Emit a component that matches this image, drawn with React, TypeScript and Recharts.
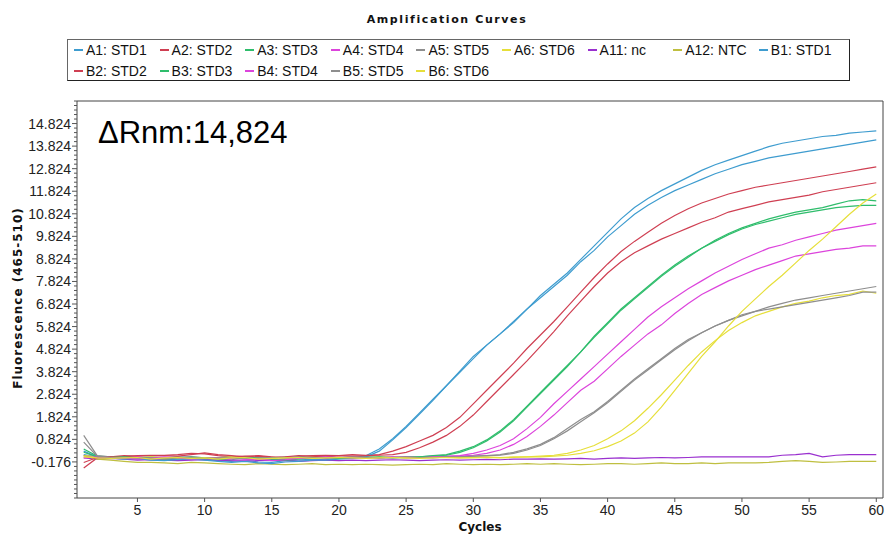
import React from "react";
import { LineChart, Line, XAxis, YAxis, ReferenceArea } from "recharts";

// cycle numbers (x categories)
const cycles = Array.from({ length: 60 }, (_, i) => i + 1);

// fluorescence per cycle (rows of 10 cycles)
const a1Std1 = [
  0.15, 0.05, 0.02, 0.0, -0.05, -0.08, -0.1, -0.05, 0.0, -0.08,
  -0.12, -0.15, -0.1, -0.18, -0.2, -0.12, -0.1, -0.05, -0.08, -0.02,
  0.0, 0.1, 0.4, 0.85, 1.4, 2.0, 2.6, 3.2, 3.85, 4.5,
  5.0, 5.5, 6.0, 6.6, 7.2, 7.7, 8.2, 8.8, 9.4, 10.0,
  10.6, 11.1, 11.5, 11.85, 12.15, 12.45, 12.75, 13.0, 13.2, 13.4,
  13.6, 13.8, 13.95, 14.05, 14.15, 14.25, 14.3, 14.4, 14.45, 14.5,
];
const b1Std1 = [
  0.3, 0.05, 0.0, -0.05, -0.02, -0.1, -0.12, -0.08, -0.05, -0.1,
  -0.15, -0.2, -0.15, -0.22, -0.25, -0.18, -0.15, -0.1, -0.1, -0.05,
  -0.02, 0.05, 0.3, 0.8, 1.35, 1.95, 2.55, 3.2, 3.8, 4.4,
  5.0, 5.5, 6.05, 6.6, 7.1, 7.6, 8.1, 8.7, 9.2, 9.8,
  10.3, 10.8, 11.2, 11.55, 11.85, 12.1, 12.35, 12.6, 12.8, 13.0,
  13.15, 13.3, 13.4, 13.5, 13.6, 13.7, 13.8, 13.9, 14.0, 14.1,
];
const a2Std2 = [
  -0.45, 0.0, 0.05, 0.1, 0.08, 0.1, 0.12, 0.15, 0.2, 0.18,
  0.1, 0.05, 0.08, 0.1, 0.05, 0.0, 0.05, 0.1, 0.12, 0.1,
  0.15, 0.12, 0.15, 0.3, 0.5, 0.75, 1.0, 1.35, 1.8, 2.4,
  3.0, 3.6, 4.2, 4.85, 5.45, 6.05, 6.7, 7.35, 8.0, 8.6,
  9.15, 9.6, 10.0, 10.4, 10.75, 11.05, 11.3, 11.5, 11.7, 11.85,
  12.0, 12.1, 12.2, 12.3, 12.4, 12.5, 12.6, 12.7, 12.8, 12.9,
];
const b2Std2 = [
  -0.2, 0.02, 0.05, 0.05, 0.1, 0.12, 0.1, 0.08, 0.15, 0.22,
  0.15, 0.1, 0.05, 0.08, 0.02, 0.05, 0.1, 0.08, 0.05, 0.1,
  0.08, 0.1, 0.12, 0.15, 0.25, 0.45, 0.7, 1.0, 1.4, 1.9,
  2.5, 3.1, 3.7, 4.3, 4.95, 5.6, 6.3, 6.95, 7.6, 8.2,
  8.7, 9.1, 9.4, 9.7, 9.95, 10.2, 10.45, 10.65, 10.9, 11.05,
  11.2, 11.35, 11.45, 11.55, 11.65, 11.8, 11.9, 12.0, 12.1, 12.2,
];
const a3Std3 = [
  0.4, 0.08, 0.05, 0.0, 0.02, -0.02, 0.0, 0.05, 0.02, -0.05,
  -0.02, 0.0, 0.05, -0.05, -0.1, -0.05, 0.0, 0.02, 0.05, 0.0,
  0.02, 0.05, 0.0, 0.02, 0.05, 0.05, 0.1, 0.15, 0.3, 0.5,
  0.8, 1.2, 1.7, 2.3, 2.9, 3.5, 4.1, 4.7, 5.4, 6.0,
  6.6, 7.1, 7.6, 8.1, 8.55, 8.95, 9.3, 9.65, 9.95, 10.2,
  10.4, 10.6, 10.75, 10.9, 11.0, 11.1, 11.25, 11.4, 11.45, 11.4,
];
const b3Std3 = [
  0.25, 0.05, 0.02, 0.05, 0.0, 0.02, -0.05, 0.0, 0.05, 0.0,
  -0.05, -0.08, 0.0, 0.02, -0.05, -0.1, -0.05, 0.0, 0.02, -0.02,
  0.0, 0.02, 0.05, 0.0, 0.02, 0.05, 0.08, 0.12, 0.25, 0.45,
  0.75, 1.15, 1.65, 2.25, 2.85, 3.45, 4.05, 4.7, 5.35, 5.95,
  6.55, 7.05, 7.55, 8.05, 8.5, 8.9, 9.3, 9.6, 9.9, 10.15,
  10.35, 10.5, 10.65, 10.8, 10.9, 11.0, 11.1, 11.15, 11.2, 11.2,
];
const a4Std4 = [
  0.1, 0.05, 0.0, -0.02, 0.05, 0.0, -0.05, 0.02, 0.05, 0.0,
  -0.05, 0.0, -0.05, -0.1, -0.08, -0.05, 0.0, 0.05, -0.02, 0.0,
  0.05, 0.0, 0.02, 0.0, 0.05, 0.02, 0.05, 0.08, 0.1, 0.2,
  0.35, 0.55, 0.85, 1.3, 1.8, 2.4, 2.95, 3.5, 4.05, 4.6,
  5.15, 5.7, 6.25, 6.7, 7.1, 7.5, 7.85, 8.2, 8.5, 8.8,
  9.05, 9.3, 9.45, 9.65, 9.8, 9.95, 10.1, 10.2, 10.3, 10.4,
];
const b4Std4 = [
  0.0, 0.05, 0.02, 0.0, -0.05, 0.0, 0.05, 0.0, -0.05, -0.02,
  0.0, -0.08, -0.1, -0.05, -0.12, -0.08, -0.02, 0.0, 0.05, 0.02,
  0.0, 0.02, 0.0, 0.05, 0.02, 0.0, 0.05, 0.05, 0.08, 0.12,
  0.2, 0.35, 0.6, 0.95, 1.4, 1.9, 2.45, 3.0, 3.4, 3.95,
  4.5, 5.0, 5.5, 5.9, 6.4, 6.85, 7.25, 7.55, 7.85, 8.1,
  8.35, 8.55, 8.75, 8.95, 9.05, 9.15, 9.25, 9.3, 9.4, 9.4,
];
const a5Std5 = [
  1.0, 0.1, 0.05, 0.02, 0.0, 0.05, 0.02, 0.0, -0.05, 0.0,
  0.02, 0.05, 0.0, -0.02, 0.0, 0.05, 0.02, 0.0, 0.05, 0.02,
  0.0, 0.05, 0.02, 0.05, 0.0, 0.02, 0.05, 0.02, 0.05, 0.08,
  0.1, 0.15, 0.25, 0.4, 0.6, 0.9, 1.3, 1.7, 2.05, 2.5,
  3.0, 3.5, 3.95, 4.4, 4.85, 5.25, 5.55, 5.85, 6.1, 6.3,
  6.5, 6.7, 6.85, 7.0, 7.1, 7.2, 7.3, 7.4, 7.5, 7.6,
];
const b5Std5 = [
  0.7, 0.08, 0.02, 0.0, 0.02, 0.0, -0.05, 0.02, 0.0, -0.02,
  0.0, 0.02, -0.02, 0.0, 0.02, 0.0, 0.05, 0.02, 0.0, 0.02,
  0.05, 0.02, 0.0, 0.02, 0.05, 0.02, 0.0, 0.05, 0.05, 0.08,
  0.1, 0.12, 0.2, 0.35, 0.55, 0.85, 1.2, 1.6, 2.0, 2.45,
  2.95, 3.45, 3.9, 4.35, 4.8, 5.2, 5.55, 5.85, 6.1, 6.35,
  6.5, 6.6, 6.7, 6.8, 6.9, 7.0, 7.1, 7.2, 7.35, 7.35,
];
const a6Std6 = [
  0.1, 0.05, 0.0, 0.02, 0.0, 0.05, 0.02, -0.02, 0.0, 0.02,
  0.0, 0.05, 0.0, -0.02, 0.0, 0.02, 0.0, 0.05, 0.02, 0.0,
  0.02, 0.0, 0.05, 0.02, 0.0, 0.02, 0.05, 0.02, 0.0, 0.02,
  0.05, 0.02, 0.05, 0.05, 0.08, 0.12, 0.2, 0.35, 0.55, 0.85,
  1.2, 1.65, 2.2, 2.8, 3.45, 4.1, 4.7, 5.2, 5.65, 6.0,
  6.3, 6.5, 6.7, 6.85, 6.95, 7.1, 7.2, 7.25, 7.4, 7.3,
];
const b6Std6 = [
  0.05, 0.0, -0.02, 0.0, 0.02, -0.05, 0.0, 0.02, -0.02, 0.0,
  -0.05, 0.0, 0.02, -0.05, -0.02, 0.0, 0.02, -0.02, 0.0, 0.02,
  0.0, -0.02, 0.0, 0.02, 0.0, -0.02, 0.0, 0.02, 0.0, 0.0,
  0.02, 0.0, 0.02, 0.05, 0.05, 0.08, 0.12, 0.2, 0.32, 0.5,
  0.75, 1.1, 1.6, 2.25, 3.0, 3.75, 4.5, 5.15, 5.85, 6.5,
  7.05, 7.6, 8.1, 8.65, 9.2, 9.7, 10.25, 10.8, 11.3, 11.7,
];
const a11Nc = [
  0.0, -0.05, -0.02, -0.05, -0.1, -0.08, -0.1, -0.12, -0.1, -0.08,
  -0.1, -0.12, -0.15, -0.12, -0.1, -0.12, -0.15, -0.12, -0.1, -0.12,
  -0.1, -0.12, -0.1, -0.08, -0.1, -0.12, -0.1, -0.08, -0.1, -0.08,
  -0.06, -0.08, -0.05, -0.05, -0.04, -0.05, -0.04, -0.02, -0.05, -0.02,
  0.0, -0.02, 0.0, 0.02, 0.0, 0.02, 0.05, 0.05, 0.05, 0.05,
  0.05, 0.05, 0.12, 0.15, 0.2, 0.05, 0.12, 0.15, 0.15, 0.15,
];
const a12Ntc = [
  0.1, -0.05, -0.1, -0.15, -0.2, -0.2, -0.22, -0.25, -0.2, -0.22,
  -0.25, -0.28, -0.3, -0.25, -0.28, -0.3, -0.28, -0.25, -0.3, -0.28,
  -0.3, -0.28, -0.3, -0.32, -0.3, -0.28, -0.3, -0.25, -0.28, -0.3,
  -0.28, -0.3, -0.28, -0.25, -0.28, -0.25, -0.28, -0.3, -0.28, -0.25,
  -0.25, -0.28, -0.25, -0.22, -0.25, -0.25, -0.22, -0.25, -0.22, -0.22,
  -0.22, -0.2, -0.15, -0.12, -0.15, -0.2, -0.18, -0.15, -0.15, -0.15,
];

const xTicks = [5, 10, 15, 20, 25, 30, 35, 40, 45, 50, 55, 60];
const yMajorTicks = [
  -0.176, 0.824, 1.824, 2.824, 3.824, 4.824, 5.824, 6.824, 7.824, 8.824,
  9.824, 10.824, 11.824, 12.824, 13.824, 14.824,
];
const xDomain: [number, number] = [0.5, 60.5];
const yDomain: [number, number] = [-1.776, 15.824];
// minor tick every 0.2 over the whole y domain
const yAllTicks = Array.from({ length: 89 }, (_, i) => Math.round((yDomain[0] + i * 0.2) * 1000) / 1000);

const colors = {
  std1: "#3e9ccf",
  std2: "#cf3f52",
  std3: "#2fbd6c",
  std4: "#dc44dc",
  std5: "#8e8e8e",
  std6: "#e6df3a",
  nc: "#9a30cf",
  ntc: "#bfbf40",
};

const series = [
  { key: "A1", label: "A1: STD1", values: a1Std1, color: colors.std1 },
  { key: "A2", label: "A2: STD2", values: a2Std2, color: colors.std2 },
  { key: "A3", label: "A3: STD3", values: a3Std3, color: colors.std3 },
  { key: "A4", label: "A4: STD4", values: a4Std4, color: colors.std4 },
  { key: "A5", label: "A5: STD5", values: a5Std5, color: colors.std5 },
  { key: "A6", label: "A6: STD6", values: a6Std6, color: colors.std6 },
  { key: "A11", label: "A11: nc", values: a11Nc, color: colors.nc },
  { key: "A12", label: "A12: NTC", values: a12Ntc, color: colors.ntc },
  { key: "B1", label: "B1: STD1", values: b1Std1, color: colors.std1 },
  { key: "B2", label: "B2: STD2", values: b2Std2, color: colors.std2 },
  { key: "B3", label: "B3: STD3", values: b3Std3, color: colors.std3 },
  { key: "B4", label: "B4: STD4", values: b4Std4, color: colors.std4 },
  { key: "B5", label: "B5: STD5", values: b5Std5, color: colors.std5 },
  { key: "B6", label: "B6: STD6", values: b6Std6, color: colors.std6 },
];

const rows = cycles.map((c, i) => {
  const row: Record<string, number> = { cycle: c };
  series.forEach((s) => (row[s.key] = s.values[i]));
  return row;
});

const sans = "'Liberation Sans', Arial, sans-serif";
const boldFont = "'DejaVu Sans', Verdana, sans-serif";

const YTick = (props: any) => {
  const { x, y, payload } = props;
  const major = yMajorTicks.some((m) => Math.abs(m - payload.value) < 0.001);
  return (
    <g>
      <line x1={x - (major ? 5 : 3)} x2={x} y1={y} y2={y} stroke="#555" />
      {major && (
        <text x={x - 6} y={y} dy="0.36em" textAnchor="end" fontSize={14} fill="#222" fontFamily={sans}>
          {payload.value.toFixed(3)}
        </text>
      )}
    </g>
  );
};

const Legend = () => (
  <div
    style={{
      position: "absolute",
      left: 67,
      top: 39,
      width: 781,
      height: 40,
      border: "1px solid #666",
      borderRightColor: "#222",
      borderBottomColor: "#222",
    }}
  >
    {series.map((s, i) => {
      const col = i % 9;
      const row = Math.floor(i / 9);
      const left = 6 + col * 85.6;
      const cy = row === 0 ? 9.5 : 30.5;
      return (
        <div key={s.key}>
          <div style={{ position: "absolute", left, top: cy - 1, width: 9, height: 2, background: s.color }} />
          <div
            style={{
              position: "absolute",
              left: left + 12,
              top: cy - 8,
              height: 16,
              lineHeight: "16px",
              fontSize: 14,
              fontFamily: sans,
              color: "#111",
              whiteSpace: "nowrap",
            }}
          >
            {s.label}
          </div>
        </div>
      );
    })}
  </div>
);

export default function App() {
  return (
    <div style={{ position: "absolute", left: 0, top: 0, width: 886, height: 534, background: "#fff" }}>
      <div
        style={{
          position: "absolute",
          left: 247,
          top: 12,
          width: 400,
          height: 16,
          lineHeight: "16px",
          textAlign: "center",
          fontSize: 11,
          fontWeight: "bold",
          letterSpacing: 1.6,
          fontFamily: boldFont,
          color: "#111",
        }}
      >
        Amplification Curves
      </div>
      <Legend />
      <LineChart width={886} height={534} data={rows} margin={{ top: 101, right: 3, bottom: 0, left: 0 }}>
        <XAxis
          type="number"
          dataKey="cycle"
          domain={xDomain}
          ticks={xTicks}
          interval={0}
          allowDataOverflow
          height={36}
          tickSize={4}
          tickMargin={3}
          axisLine={false}
          tickLine={{ stroke: "#555" }}
          tick={{ fontSize: 14, fill: "#222", fontFamily: sans }}
        />
        <YAxis
          type="number"
          domain={yDomain}
          ticks={yAllTicks}
          interval={0}
          allowDataOverflow
          width={77}
          tickSize={0}
          tickMargin={0}
          axisLine={false}
          tickLine={false}
          tick={YTick}
        />
        <ReferenceArea
          x1={xDomain[0]}
          x2={xDomain[1]}
          y1={yDomain[0]}
          y2={yDomain[1]}
          fill="none"
          stroke="#444"
          strokeWidth={1}
        />
        {series.map((s) => (
          <Line
            key={s.key}
            type="linear"
            dataKey={s.key}
            stroke={s.color}
            strokeWidth={1.2}
            dot={false}
            isAnimationActive={false}
          />
        ))}
      </LineChart>
      <div
        style={{
          position: "absolute",
          left: 18 - 130,
          top: 298 - 8,
          width: 260,
          height: 16,
          lineHeight: "16px",
          textAlign: "center",
          transform: "rotate(-90deg)",
          fontSize: 12,
          fontWeight: "bold",
          letterSpacing: 1,
          fontFamily: boldFont,
          color: "#111",
        }}
      >
        Fluorescence (465-510)
      </div>
      <div
        style={{
          position: "absolute",
          left: 380,
          top: 519,
          width: 200,
          height: 16,
          lineHeight: "16px",
          textAlign: "center",
          fontSize: 12,
          fontWeight: "bold",
          fontFamily: boldFont,
          color: "#111",
        }}
      >
        Cycles
      </div>
      <div
        style={{
          position: "absolute",
          left: 98,
          top: 117,
          fontSize: 31,
          lineHeight: "31px",
          fontFamily: sans,
          color: "#000",
          whiteSpace: "nowrap",
        }}
      >
        ΔRnm:14,824
      </div>
    </div>
  );
}
